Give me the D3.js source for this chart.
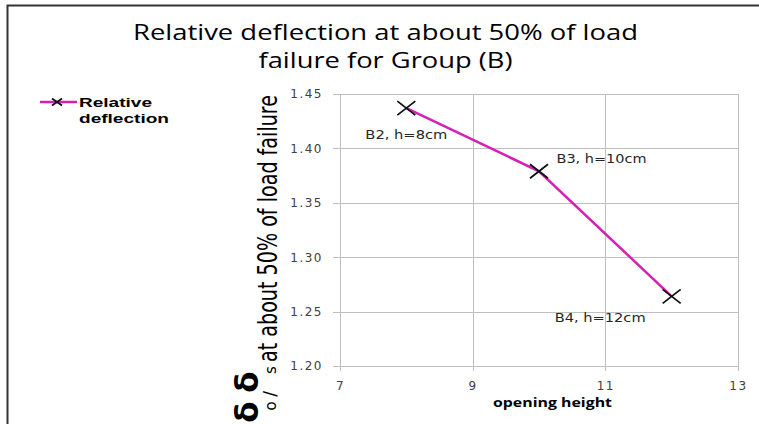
<!DOCTYPE html>
<html>
<head>
<meta charset="utf-8">
<script src="https://cdn.jsdelivr.net/npm/d3@7"></script>
<style>
  body { margin: 0; background: #fff; }
  svg { display: block; }
</style>
</head>
<body>
<div class="chart"></div>
<script>
// Data
const openingHeight = [8, 10, 12];
const relDeflection = [1.437, 1.379, 1.264];
const pointLabels = ["B2, h=8cm", "B3, h=10cm", "B4, h=12cm"];
const xTicks = [7, 9, 11, 13];
const yTicks = [1.20, 1.25, 1.30, 1.35, 1.40, 1.45];
const titleLines = ["Relative deflection at about 50% of load", "failure for Group (B)"];
const legendLines = ["Relative", "deflection"];
const xTitle = "opening height";

const WIDTH = 759;
const HEIGHT = 424;
const plot = { left: 340, right: 738, top: 94, bottom: 366 };
const PINK = "#d61fb5";
const GRID = "#bfbfbf";

const svg = d3.select(".chart")
  .append("svg")
  .attr("width", WIDTH)
  .attr("height", HEIGHT);

// outer frame (only left and top edges are visible in the crop)
svg.append("path")
  .attr("d", `M7.5,${HEIGHT} V5.5 H${WIDTH}`)
  .attr("fill", "none")
  .attr("stroke", "#333")
  .attr("stroke-width", 2);

const xScale = d3.scaleLinear().domain([7, 13]).range([plot.left, plot.right]);
const yScale = d3.scaleLinear().domain([1.2, 1.45]).range([plot.bottom, plot.top]);

// gridlines
svg.append("g")
  .attr("class", "grid")
  .attr("transform", `translate(${plot.left},0)`)
  .call(d3.axisLeft(yScale).tickValues(yTicks).tickSize(-(plot.right - plot.left)).tickFormat(""))
  .call(g => g.select(".domain").remove());
svg.append("g")
  .attr("class", "grid")
  .attr("transform", `translate(0,${plot.bottom})`)
  .call(d3.axisBottom(xScale).tickValues(xTicks).tickSize(-(plot.bottom - plot.top)).tickFormat(""))
  .call(g => g.select(".domain").remove());
svg.selectAll(".grid line").attr("stroke", GRID).attr("shape-rendering", "crispEdges");

// axes
const yAxis = svg.append("g")
  .attr("transform", `translate(${plot.left},0)`)
  .call(d3.axisLeft(yScale).tickValues(yTicks).tickSize(7).tickPadding(10).tickFormat(d3.format(".2f")));
const xAxis = svg.append("g")
  .attr("transform", `translate(0,${plot.bottom})`)
  .call(d3.axisBottom(xScale).tickValues(xTicks).tickSize(5).tickPadding(10).tickFormat(d3.format("d")));
[xAxis, yAxis].forEach(a => {
  a.selectAll("line, path").attr("stroke", GRID).attr("shape-rendering", "crispEdges");
  a.selectAll("text")
    .attr("fill", "#404040")
    .style("font-family", "'DejaVu Sans', Verdana, sans-serif")
    .style("font-size", "12px")
    .style("letter-spacing", "1.5px");
});

// series line
const points = openingHeight.map((h, i) => ({ h, v: relDeflection[i], label: pointLabels[i] }));
const line = d3.line().x(d => xScale(d.h)).y(d => yScale(d.v));
svg.append("path")
  .datum(points)
  .attr("d", line)
  .attr("fill", "none")
  .attr("stroke", PINK)
  .attr("stroke-width", 2.5);

// x markers
const cross = (w, h) => `M${-w},${-h}L${w},${h}M${-w},${h}L${w},${-h}`;
svg.append("g")
  .selectAll("path")
  .data(points)
  .join("path")
  .attr("transform", d => `translate(${xScale(d.h)},${yScale(d.v)})`)
  .attr("d", cross(9, 7))
  .attr("stroke", "#111")
  .attr("stroke-width", 1.8)
  .attr("fill", "none");

// point labels: placement relative to each point
const labelPlace = [
  { dx: 0, dy: 31, anchor: "middle", len: 82 },
  { dx: 17.5, dy: -8.5, anchor: "start", len: 90 },
  { dx: -71.5, dy: 26, anchor: "middle", len: 91 },
];
svg.append("g")
  .selectAll("text")
  .data(points)
  .join("text")
  .attr("x", (d, i) => xScale(d.h) + labelPlace[i].dx)
  .attr("y", (d, i) => yScale(d.v) + labelPlace[i].dy)
  .attr("text-anchor", (d, i) => labelPlace[i].anchor)
  .attr("textLength", (d, i) => labelPlace[i].len)
  .attr("lengthAdjust", "spacingAndGlyphs")
  .attr("fill", "#262626")
  .style("font-family", "'DejaVu Sans', Verdana, sans-serif")
  .style("font-size", "12px")
  .text(d => d.label);

// title
const titleLens = [505, 254];
svg.append("g")
  .selectAll("text")
  .data(titleLines)
  .join("text")
  .attr("x", 385.5)
  .attr("y", (d, i) => 40 + i * 28)
  .attr("text-anchor", "middle")
  .attr("textLength", (d, i) => titleLens[i])
  .attr("lengthAdjust", "spacingAndGlyphs")
  .attr("fill", "#000")
  .style("font-family", "'Open Sans', sans-serif")
  .style("font-size", "22px")
  .text(d => d);

// x axis title
svg.append("text")
  .attr("x", 552.5)
  .attr("y", 407)
  .attr("text-anchor", "middle")
  .attr("textLength", 119)
  .attr("lengthAdjust", "spacingAndGlyphs")
  .style("font-family", "'Open Sans', sans-serif")
  .style("font-size", "12px")
  .style("font-weight", "bold")
  .text(xTitle);

// y axis title, built from pieces stacked upwards
const yTitle = svg.append("g").style("font-family", "'Liberation Sans Narrow', 'DejaVu Sans Condensed', sans-serif");
const rot = (px, py) => `translate(${px},${py}) rotate(-90)`;
[[258, 412], [258, 382]].forEach(([px, py]) => {
  yTitle.append("text")
    .attr("transform", rot(px, py))
    .attr("text-anchor", "middle")
    .style("font-family", "'DejaVu Sans', sans-serif")
    .style("font-size", "31px")
    .style("font-weight", "bold")
    .text("δ");
});
[["o", 406, 15], ["/", 394, 17], ["s", 370, 15]].forEach(([t, py, fs]) => {
  yTitle.append("text")
    .attr("transform", rot(276, py))
    .attr("text-anchor", "middle")
    .style("font-family", "'DejaVu Sans', sans-serif")
    .style("font-size", fs + "px")
    .text(t);
});
yTitle.append("text")
  .attr("transform", rot(277, 362))
  .attr("textLength", 267)
  .attr("lengthAdjust", "spacingAndGlyphs")
  .style("font-size", "27px")
  .text("at about 50% of load failure");

// legend
const legend = svg.append("g");
legend.append("line")
  .attr("x1", 40).attr("x2", 77).attr("y1", 102).attr("y2", 102)
  .attr("stroke", PINK).attr("stroke-width", 2.5);
legend.append("path")
  .attr("transform", "translate(57,102)")
  .attr("d", cross(5, 3.5))
  .attr("stroke", "#111").attr("stroke-width", 1.8);
const legendLens = [73, 90];
legend.selectAll("text")
  .data(legendLines)
  .join("text")
  .attr("x", 79)
  .attr("y", (d, i) => 107 + i * 16)
  .attr("textLength", (d, i) => legendLens[i])
  .attr("lengthAdjust", "spacingAndGlyphs")
  .style("font-family", "'Liberation Sans', Arial, sans-serif")
  .style("font-size", "13px")
  .style("font-weight", "bold")
  .text(d => d);
</script>
</body>
</html>
